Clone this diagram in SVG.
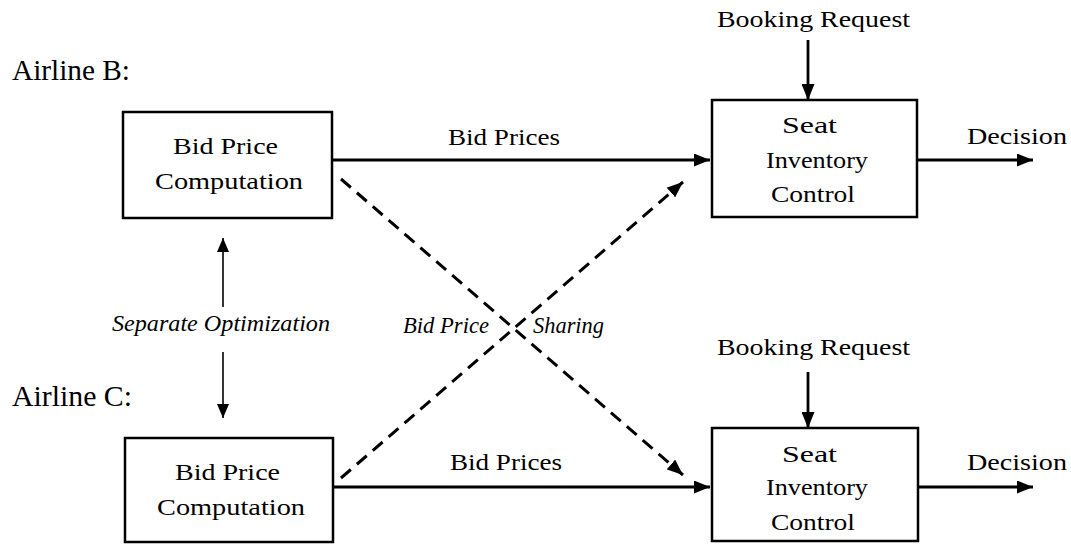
<svg xmlns="http://www.w3.org/2000/svg" width="1071" height="544" viewBox="0 0 1071 544">
<defs>
<style>
text{font-family:'Liberation Serif','DejaVu Serif','Times New Roman',serif;fill:#000}
.lbl{font-size:29px}
.t{font-size:24px}
.it{font-size:23px;font-style:italic}
.box{fill:#fff;stroke:#000;stroke-width:2.5}
.solid{stroke:#000;stroke-width:2.8;fill:none}
.thin{stroke:#000;stroke-width:1.6;fill:none}
.dash{stroke:#000;stroke-width:3;fill:none;stroke-dasharray:13 8}
</style>
<marker id="ah" viewBox="0 0 16 13" refX="16" refY="6.5" markerWidth="16" markerHeight="13" markerUnits="userSpaceOnUse" orient="auto"><path d="M0,0 L16,6.5 L0,13 Z" fill="#000"/></marker>
<marker id="ahs" viewBox="0 0 14 12" refX="14" refY="6" markerWidth="14" markerHeight="12" markerUnits="userSpaceOnUse" orient="auto"><path d="M0,0 L14,6 L0,12 Z" fill="#000"/></marker>
</defs>
<text class="lbl" x="12" y="80" textLength="118" lengthAdjust="spacingAndGlyphs">Airline B:</text>
<text class="lbl" x="12" y="406" textLength="120" lengthAdjust="spacingAndGlyphs">Airline C:</text>
<g id="connectors">
<line class="solid" x1="332" y1="160" x2="710" y2="160" marker-end="url(#ah)"/>
<line class="solid" x1="333" y1="487" x2="710" y2="487" marker-end="url(#ah)"/>
<line class="solid" x1="917" y1="160" x2="1033" y2="160" marker-end="url(#ah)"/>
<line class="solid" x1="918" y1="487" x2="1033" y2="487" marker-end="url(#ah)"/>
<line class="solid" x1="808" y1="40" x2="808" y2="100" marker-end="url(#ah)"/>
<line class="solid" x1="808" y1="372" x2="808" y2="428" marker-end="url(#ah)"/>
<line class="thin" x1="223" y1="307" x2="223" y2="238" marker-end="url(#ahs)"/>
<line class="thin" x1="223" y1="352" x2="223" y2="418" marker-end="url(#ahs)"/>
<line class="dash" x1="341" y1="179" x2="683" y2="475" marker-end="url(#ah)"/>
<line class="dash" x1="341" y1="478" x2="683" y2="182" marker-end="url(#ah)"/>
<text class="t" x="448" y="145" textLength="112" lengthAdjust="spacingAndGlyphs">Bid Prices</text>
<text class="t" x="450" y="470" textLength="112" lengthAdjust="spacingAndGlyphs">Bid Prices</text>
<text class="t" x="717" y="27" textLength="193" lengthAdjust="spacingAndGlyphs">Booking Request</text>
<text class="t" x="717" y="355" textLength="193" lengthAdjust="spacingAndGlyphs">Booking Request</text>
<text class="t" x="967" y="144" textLength="100" lengthAdjust="spacingAndGlyphs">Decision</text>
<text class="t" x="967" y="470" textLength="100" lengthAdjust="spacingAndGlyphs">Decision</text>
<text class="it" x="112" y="331" textLength="218" lengthAdjust="spacingAndGlyphs">Separate Optimization</text>
<text class="it" x="403" y="333" textLength="86" lengthAdjust="spacingAndGlyphs">Bid Price</text>
<text class="it" x="533" y="333" textLength="71" lengthAdjust="spacingAndGlyphs">Sharing</text>
</g>
<g id="bidB">
<rect class="box" x="123" y="112" width="209" height="106"/>
<text class="t" x="173" y="154" textLength="105" lengthAdjust="spacingAndGlyphs">Bid Price</text>
<text class="t" x="155" y="189" textLength="148" lengthAdjust="spacingAndGlyphs">Computation</text>
</g>
<g id="bidC">
<rect class="box" x="125" y="438" width="208" height="104"/>
<text class="t" x="175" y="480" textLength="105" lengthAdjust="spacingAndGlyphs">Bid Price</text>
<text class="t" x="157" y="515" textLength="148" lengthAdjust="spacingAndGlyphs">Computation</text>
</g>
<g id="seatB">
<rect class="box" x="712" y="100" width="205" height="117"/>
<text class="t" x="782" y="133" textLength="55" lengthAdjust="spacingAndGlyphs">Seat</text>
<text class="t" x="766" y="168" textLength="102" lengthAdjust="spacingAndGlyphs">Inventory</text>
<text class="t" x="771" y="202" textLength="84" lengthAdjust="spacingAndGlyphs">Control</text>
</g>
<g id="seatC">
<rect class="box" x="712" y="428" width="206" height="113"/>
<text class="t" x="782" y="462" textLength="55" lengthAdjust="spacingAndGlyphs">Seat</text>
<text class="t" x="766" y="495" textLength="102" lengthAdjust="spacingAndGlyphs">Inventory</text>
<text class="t" x="771" y="530" textLength="84" lengthAdjust="spacingAndGlyphs">Control</text>
</g>
</svg>
